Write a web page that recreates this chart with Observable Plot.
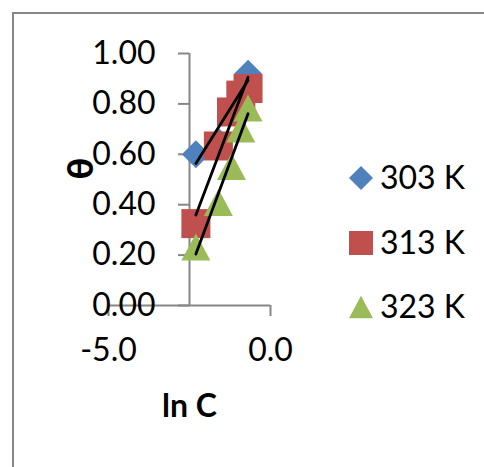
<!DOCTYPE html>
<html><head><meta charset="utf-8">
<script src="https://cdn.jsdelivr.net/npm/d3@7"></script>
<script src="https://cdn.jsdelivr.net/npm/@observablehq/plot@0.6"></script>
<style>
body{margin:0;background:#fff;font-family:Lato,sans-serif;}
#wrap{position:relative;width:484px;height:467px;overflow:hidden;background:#fff;}
#border{position:absolute;left:12px;top:12px;width:600px;height:600px;border:2px solid #878787;box-sizing:border-box;}
#chart{position:absolute;left:0;top:0;}
#legend{position:absolute;left:0;top:0;}
</style></head><body>
<div id="wrap"><div id="border"></div><div id="chart"></div><div id="legend"></div></div>
<script>
// ---- data ----
const lnC = [-2.303, -1.609, -1.204, -0.916, -0.693];
const series = ["303 K", "313 K", "323 K"];
const theta303 = [0.60, 0.65, 0.77, 0.86, 0.92];
const theta313 = [0.325, 0.633, 0.768, 0.835, 0.861];
const theta323 = [0.232, 0.409, 0.552, 0.70, 0.784];
const colors = ["#4F81BD", "#C0504D", "#9BBB59"];
const xTicks = [-5, 0];
const yTicks = [0, 0.2, 0.4, 0.6, 0.8, 1.0];
const xLabel = "ln C";
const yLabel = "θ";
const yAxisCrossesAt = -2.5;

// ---- build table ----
const allTheta = [theta303, theta313, theta323];
const rows = [];
allTheta.forEach((arr, i) => arr.forEach((t, j) => rows.push({series: series[i], lnC: lnC[j], theta: t})));

// ---- custom Excel-like symbols ----
const diamond = {draw(ctx, size){const r = Math.sqrt(size/Math.PI); ctx.moveTo(0,-r); ctx.lineTo(r,0); ctx.lineTo(0,r); ctx.lineTo(-r,0); ctx.closePath();}};
const square = {draw(ctx, size){const r = Math.sqrt(size/Math.PI); ctx.rect(-r,-r,2*r,2*r);}};
const triangle = {draw(ctx, size){const r = Math.sqrt(size/Math.PI); const h = r*0.93; ctx.moveTo(0,-h); ctx.lineTo(r,h); ctx.lineTo(-r,h); ctx.closePath();}};
const symbols = [diamond, square, triangle];
const plotR = [14, 14.5, 14.5];
const legendR = [12, 12, 12];

const axisGray = "#868686";

const dotMarks = series.map((s, i) => Plot.dot(rows.filter(d => d.series === s), {
  x: "lnC", y: "theta", symbol: symbols[i], r: plotR[i], fill: colors[i], stroke: "none"
}));

const chart = Plot.plot({
  width: 484, height: 467,
  marginLeft: 108, marginRight: 214, marginTop: 53, marginBottom: 162,
  x: {domain: [-5, 0]},
  y: {domain: [0, 1]},
  style: {fontFamily: "Lato, sans-serif", fontSize: "32px", background: "transparent", overflow: "visible", color: "#000"},
  marks: [
    Plot.ruleY([0], {x1: -5, x2: 0, stroke: axisGray, strokeWidth: 2}),
    Plot.ruleX([yAxisCrossesAt], {y1: 0, y2: 1, stroke: axisGray, strokeWidth: 2}),
    Plot.axisX(xTicks, {tickSize: 11, tickPadding: 22, tickFormat: d => d.toFixed(1), stroke: axisGray, strokeWidth: 2, fontSize: 32, fill: "#000", label: null}),
    Plot.axisY(yTicks, {tickSize: 11, tickPadding: 23, dx: 81, tickFormat: d => d.toFixed(2), stroke: axisGray, strokeWidth: 2, fontSize: 32, fill: "#000", label: null}),
    ...dotMarks,
    Plot.linearRegressionY(rows, {x: "lnC", y: "theta", z: "series", stroke: "#000", strokeWidth: 2.8, ci: 0}),
    Plot.text([yLabel], {frameAnchor: "left", dx: -27, rotate: -90, fontWeight: "900", fontSize: 36, lineAnchor: "middle"}),
    Plot.text([xLabel], {frameAnchor: "bottom", dy: 101, fontWeight: "bold", fontSize: 32, lineAnchor: "middle"})
  ]
});
document.getElementById("chart").appendChild(chart);

// ---- legend ----
const legendX = 361, legendTextX = 380, legendY = [178, 243, 307];
const lsvg = d3.select("#legend").append("svg").attr("width", 484).attr("height", 467)
  .style("font-family", "Lato, sans-serif");
series.forEach((s, i) => {
  lsvg.append("path")
    .attr("transform", `translate(${legendX},${legendY[i]})`)
    .attr("d", d3.symbol(symbols[i], Math.PI * legendR[i] * legendR[i])())
    .attr("fill", colors[i]);
  lsvg.append("text")
    .attr("x", legendTextX).attr("y", legendY[i])
    .attr("dy", "0.35em")
    .attr("font-size", 32).attr("fill", "#000")
    .text(s);
});
</script>
</body></html>
